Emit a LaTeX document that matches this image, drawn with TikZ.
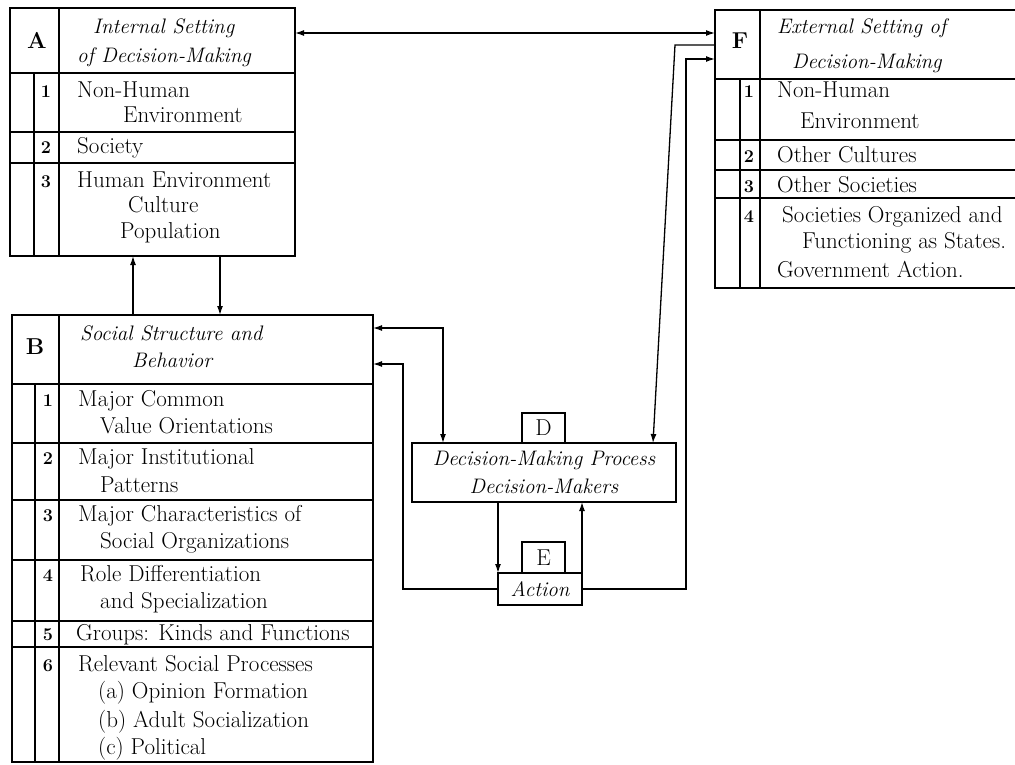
\documentclass[tikz,border=0pt]{standalone}
\usetikzlibrary{arrows.meta}
\newcommand\fsz{\fontsize{23}{28}\selectfont}
\newcommand\isz{\fontsize{21}{28}\selectfont}
\newcommand\nsz{\fontsize{18}{20}\selectfont}
\begin{document}
\begin{tikzpicture}[x=1pt,y=-1pt,
  box/.style={draw, line width=1.5pt, inner sep=0pt, outer sep=0pt, anchor=north west},
  ln/.style={line width=1.2pt},
  arr/.style={line width=1.3pt, -{Latex[length=9pt,width=6pt]}},
  darr/.style={line width=1.3pt, {Latex[length=9pt,width=6pt]}-{Latex[length=9pt,width=6pt]}},
  txt/.style={anchor=base west, inner sep=0pt, font=\fsz},
  itx/.style={anchor=base west, inner sep=0pt, font=\isz\itshape},
  num/.style={anchor=base, inner sep=0pt, font=\nsz\bfseries},
  lett/.style={anchor=base, inner sep=0pt, font=\fsz\bfseries}]
\useasboundingbox (0,0) rectangle (1015,764);
\fill[white] (0,0) rectangle (1015,764);
\clip (0,0) rectangle (1015,764);

% ---------- boxes ----------
\node[box, minimum width=285pt, minimum height=248pt] (A) at (10,8) {};
\node[box, minimum width=361pt, minimum height=447pt] (B) at (12,315) {};
\node[box, minimum width=310pt, minimum height=278pt] (F) at (715,10) {};
\node[box, minimum width=264pt, minimum height=59pt, align=center, font=\isz\itshape] (D) at (412,443)
  {Decision-Making Process\\Decision-Makers};
\node[box, minimum width=43pt, minimum height=30pt, font=\fsz] (Dl) at (522,413) {D};
\node[box, minimum width=43pt, minimum height=31pt, font=\fsz] (El) at (522,542) {E};
\node[box, minimum width=84pt, minimum height=32pt, font=\isz\itshape] (Act) at (498,573) {Action};

% ---------- box A inner lines ----------
\draw[ln] (59,8) -- (59,256);
\draw[ln] (34,73) -- (34,256);
\draw[ln] (10,73) -- (295,73);
\draw[ln] (10,132) -- (295,132);
\draw[ln] (10,163) -- (295,163);

% ---------- box B inner lines ----------
\draw[ln] (59,315) -- (59,762);
\draw[ln] (35,384) -- (35,762);
\foreach \yy in {384,443,500,560,621,647}
  \draw[ln] (12,\yy) -- (373,\yy);

% ---------- box F inner lines ----------
\draw[ln] (760,10) -- (760,288);
\draw[ln] (740,79) -- (740,288);
\foreach \yy in {79,140,170,198}
  \draw[ln] (715,\yy) -- (1025,\yy);

% ---------- texts A ----------
\node[lett] (tA) at (37,48) {A};
\node[itx] (a0) at (93,33) {Internal Setting};
\node[itx] (a1) at (77,62) {of Decision-Making};
\node[num] (an1) at (46,97) {1};
\node[txt] (a2) at (77,97) {Non-Human};
\node[txt] (a3) at (123,122) {Environment};
\node[num] (an2) at (46,153) {2};
\node[txt] (a4) at (77,153) {Society};
\node[num] (an3) at (46,187) {3};
\node[txt] (a5) at (77,187) {Human Environment};
\node[txt] (a6) at (128,212) {Culture};
\node[txt] (a7) at (120,238) {Population};

% ---------- texts B ----------
\node[lett] (tB) at (35,354) {B};
\node[itx] (b0) at (80,340) {Social Structure and};
\node[itx] (b1) at (132,367) {Behavior};
\node[num] (bn1) at (48,406) {1};
\node[txt] (b2) at (78,406) {Major Common};
\node[txt] (b3) at (100,433) {Value Orientations};
\node[num] (bn2) at (48,464) {2};
\node[txt] (b4) at (78,464) {Major Institutional};
\node[txt] (b5) at (100,492) {Patterns};
\node[num] (bn3) at (48,521) {3};
\node[txt] (b6) at (78,521) {Major Characteristics of};
\node[txt] (b7) at (100,548) {Social Organizations};
\node[num] (bn4) at (48,581) {4};
\node[txt] (b8) at (80,581) {Role Differentiation};
\node[txt] (b9) at (100,608) {and Specialization};
\node[num] (bn5) at (48,640) {5};
\node[txt] (b10) at (76,640) {Groups: Kinds and Functions};
\node[num] (bn6) at (48,671) {6};
\node[txt] (b11) at (78,671) {Relevant Social Processes};
\node[txt] (b12) at (98,698) {(a) Opinion Formation};
\node[txt] (b13) at (98,727) {(b) Adult Socialization};
\node[txt] (b14) at (98,754) {(c) Political};

% ---------- texts F ----------
\node[lett] (tF) at (740,48) {F};
\node[itx] (f0) at (777,33) {External Setting of};
\node[itx] (f1) at (792,68) {Decision-Making};
\node[num] (fn1) at (749,97) {1};
\node[txt] (f2) at (777,97) {Non-Human};
\node[txt] (f3) at (800,128) {Environment};
\node[num] (fn2) at (749,162) {2};
\node[txt] (f4) at (777,162) {Other Cultures};
\node[num] (fn3) at (749,192) {3};
\node[txt] (f5) at (777,192) {Other Societies};
\node[num] (fn4) at (749,222) {4};
\node[txt] (f6) at (782,222) {Societies Organized and};
\node[txt] (f7) at (802,248) {Functioning as States.};
\node[txt] (f8) at (777,277) {Government Action.};

% ---------- helper coordinates ----------
\coordinate (yAF) at (0,33);
\coordinate (xUp) at (133,0);
\coordinate (xDn) at (220,0);
\coordinate (yB1) at (0,328);
\coordinate (xB1) at (443,0);
\coordinate (yB2) at (0,364);
\coordinate (xB2) at (403,0);
\coordinate (xF1) at (686,0);
\coordinate (yF1) at (0,59);
\coordinate (yF2) at (0,45);
\coordinate (xF2) at (675,0);
\coordinate (xD2) at (653,0);

% ---------- connectors ----------
\draw[darr] (A.east |- yAF) -- (F.west |- yAF);
\draw[arr] (B.north -| xUp) -- (A.south -| xUp);
\draw[arr] (A.south -| xDn) -- (B.north -| xDn);
\draw[darr] (B.east |- yB1) -| (D.north -| xB1);
\draw[arr] (Act.west) -| (xB2 |- yB2) -- (B.east |- yB2);
\draw[arr] (D.south -| Act.west) -- (Act.north west);
\draw[arr] (Act.north east) -- (D.south -| Act.east);
\draw[arr] (Act.east) -| (xF1 |- yF1) -- (F.west |- yF1);
\draw[arr] (F.west |- yF2) -- (xF2 |- yF2) -- (D.north -| xD2);
\end{tikzpicture}
\end{document}
